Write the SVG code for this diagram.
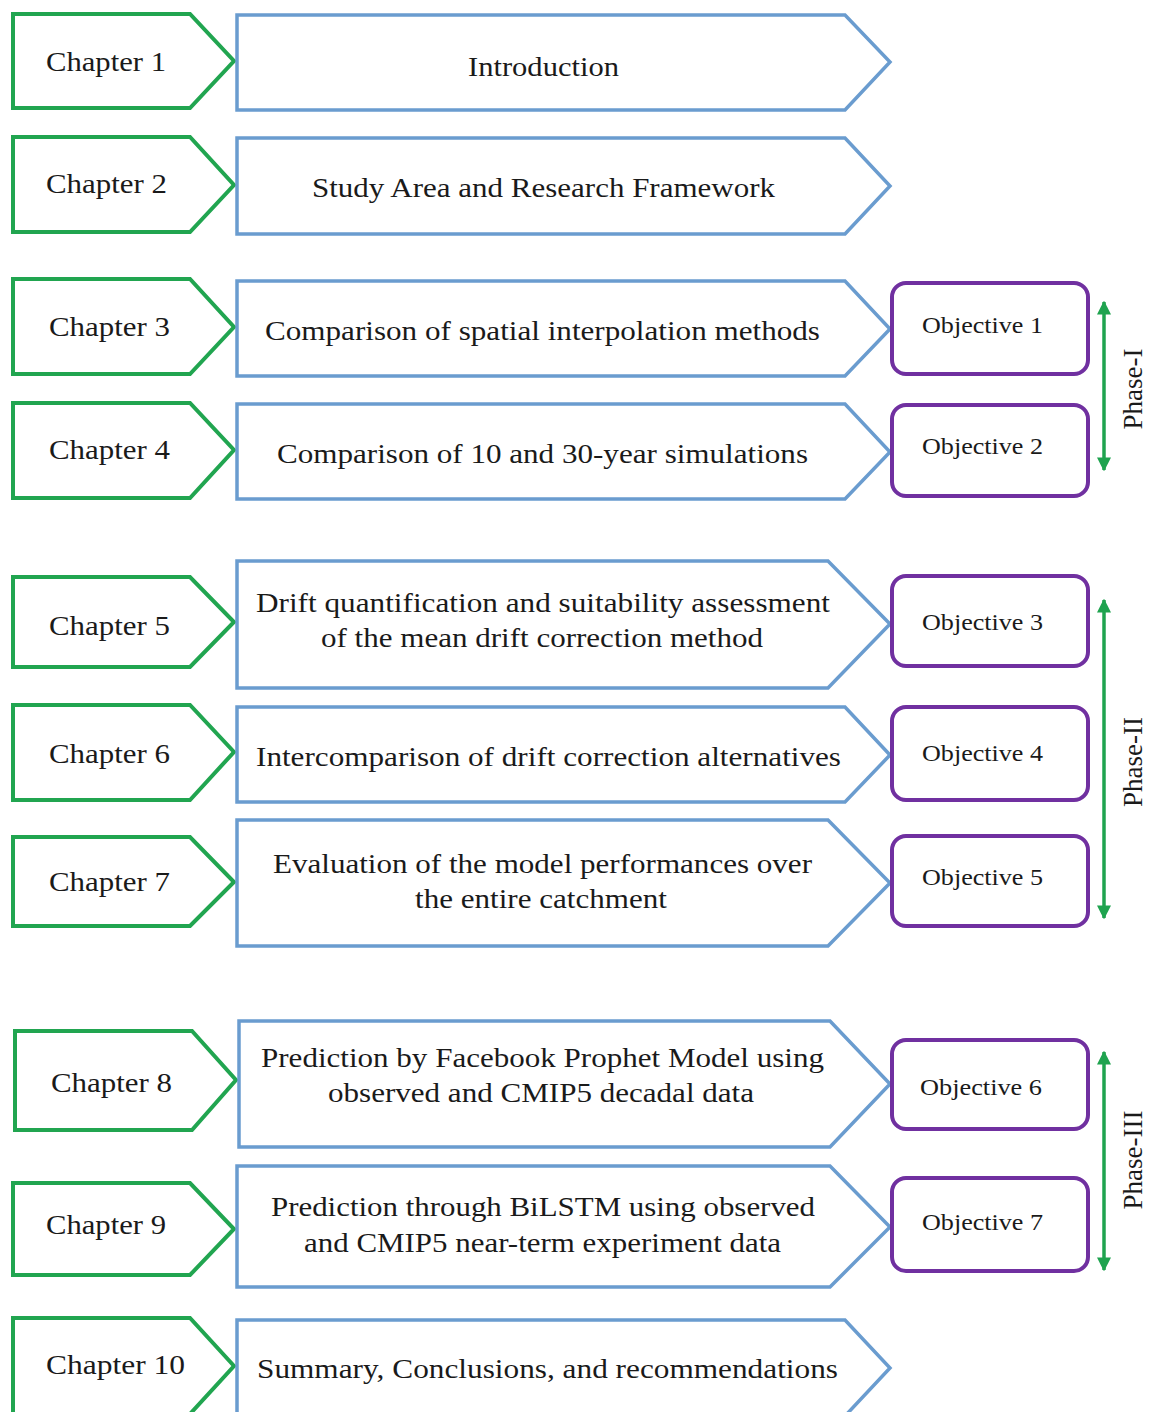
<svg xmlns="http://www.w3.org/2000/svg" width="1150" height="1412" viewBox="0 0 1150 1412">
<style>
.ch{fill:#fff;stroke:#21a550;stroke-width:4;stroke-linejoin:miter}
.bx{fill:#fff;stroke:#6a9ccf;stroke-width:3.5}
.ob{fill:#fff;stroke:#7030a0;stroke-width:4}
.t{font-family:"Liberation Serif","Times New Roman",serif;font-size:27px;fill:#1a1a1a}
.c{text-anchor:middle}
.o{font-family:"Liberation Serif","Times New Roman",serif;font-size:23px;fill:#1a1a1a}
.ph{font-family:"Liberation Serif","Times New Roman",serif;font-size:27px;fill:#1a1a1a;text-anchor:middle}
.ar{stroke:#1fa34f;stroke-width:3.5}
</style>
<defs>
<marker id="ah" viewBox="0 0 10 10" refX="9" refY="5" markerWidth="4" markerHeight="4" orient="auto-start-reverse" markerUnits="strokeWidth">
<path d="M0,0 L10,5 L0,10 z" fill="#1fa34f"/>
</marker>
</defs>

<g id="row1">
<polygon class="ch" points="13,14 190,14 234,61 190,108 13,108"/>
<text class="t" x="46" y="71" textLength="120" lengthAdjust="spacingAndGlyphs">Chapter 1</text>
<polygon class="bx" points="237,15 845,15 890,62 845,110 237,110"/>
<text class="t" x="468" y="76" textLength="151" lengthAdjust="spacingAndGlyphs">Introduction</text>
</g>
<g id="row2">
<polygon class="ch" points="13,137 190,137 234,185 190,232 13,232"/>
<text class="t" x="46" y="193" textLength="121" lengthAdjust="spacingAndGlyphs">Chapter 2</text>
<polygon class="bx" points="237,138 845,138 890,186 845,234 237,234"/>
<text class="t" x="312" y="197" textLength="463" lengthAdjust="spacingAndGlyphs">Study Area and Research Framework</text>
</g>
<g id="row3">
<polygon class="ch" points="13,279 190,279 234,327 190,374 13,374"/>
<text class="t" x="49" y="336" textLength="121" lengthAdjust="spacingAndGlyphs">Chapter 3</text>
<polygon class="bx" points="237,281 845,281 890,329 845,376 237,376"/>
<text class="t" x="265" y="340" textLength="555" lengthAdjust="spacingAndGlyphs">Comparison of spatial interpolation methods</text>
</g>
<g id="row4">
<polygon class="ch" points="13,403 190,403 234,450 190,498 13,498"/>
<text class="t" x="49" y="459" textLength="121" lengthAdjust="spacingAndGlyphs">Chapter 4</text>
<polygon class="bx" points="237,404 845,404 890,452 845,499 237,499"/>
<text class="t" x="277" y="463" textLength="531" lengthAdjust="spacingAndGlyphs">Comparison of 10 and 30-year simulations</text>
</g>
<g id="row5">
<polygon class="ch" points="13,577 190,577 234,622 190,667 13,667"/>
<text class="t" x="49" y="635" textLength="121" lengthAdjust="spacingAndGlyphs">Chapter 5</text>
<polygon class="bx" points="237,561 828,561 890,624 828,688 237,688"/>
<text class="t" x="256" y="612" textLength="574" lengthAdjust="spacingAndGlyphs">Drift quantification and suitability assessment</text>
<text class="t" x="321" y="647" textLength="442" lengthAdjust="spacingAndGlyphs">of the mean drift correction method</text>
</g>
<g id="row6">
<polygon class="ch" points="13,705 190,705 234,752 190,800 13,800"/>
<text class="t" x="49" y="763" textLength="121" lengthAdjust="spacingAndGlyphs">Chapter 6</text>
<polygon class="bx" points="237,707 845,707 890,755 845,802 237,802"/>
<text class="t" x="256" y="766" textLength="585" lengthAdjust="spacingAndGlyphs">Intercomparison of drift correction alternatives</text>
</g>
<g id="row7">
<polygon class="ch" points="13,837 190,837 234,882 190,926 13,926"/>
<text class="t" x="49" y="891" textLength="121" lengthAdjust="spacingAndGlyphs">Chapter 7</text>
<polygon class="bx" points="237,820 828,820 890,883 828,946 237,946"/>
<text class="t" x="273" y="873" textLength="539" lengthAdjust="spacingAndGlyphs">Evaluation of the model performances over</text>
<text class="t" x="415" y="908" textLength="252" lengthAdjust="spacingAndGlyphs">the entire catchment</text>
</g>
<g id="row8">
<polygon class="ch" points="15,1031 192,1031 236,1080 192,1130 15,1130"/>
<text class="t" x="51" y="1092" textLength="121" lengthAdjust="spacingAndGlyphs">Chapter 8</text>
<polygon class="bx" points="239,1021 830,1021 890,1084 830,1147 239,1147"/>
<text class="t" x="261" y="1067" textLength="563" lengthAdjust="spacingAndGlyphs">Prediction by Facebook Prophet Model using</text>
<text class="t" x="328" y="1102" textLength="426" lengthAdjust="spacingAndGlyphs">observed and CMIP5 decadal data</text>
</g>
<g id="row9">
<polygon class="ch" points="13,1183 190,1183 234,1229 190,1275 13,1275"/>
<text class="t" x="46" y="1234" textLength="120" lengthAdjust="spacingAndGlyphs">Chapter 9</text>
<polygon class="bx" points="237,1166 830,1166 890,1227 830,1287 237,1287"/>
<text class="t" x="271" y="1216" textLength="544" lengthAdjust="spacingAndGlyphs">Prediction through BiLSTM using observed</text>
<text class="t" x="304" y="1252" textLength="477" lengthAdjust="spacingAndGlyphs">and CMIP5 near-term experiment data</text>
</g>
<g id="row10">
<polygon class="ch" points="13,1318 190,1318 234,1366 190,1414 13,1414"/>
<text class="t" x="46" y="1374" textLength="139" lengthAdjust="spacingAndGlyphs">Chapter 10</text>
<polygon class="bx" points="237,1320 845,1320 890,1368 845,1416 237,1416"/>
<text class="t" x="257" y="1378" textLength="581" lengthAdjust="spacingAndGlyphs">Summary, Conclusions, and recommendations</text>
</g>

<g id="obj1"><rect class="ob" x="892" y="283" width="196" height="91" rx="14"/><text class="o" x="922" y="333" textLength="121" lengthAdjust="spacingAndGlyphs">Objective 1</text></g>
<g id="obj2"><rect class="ob" x="892" y="405" width="196" height="91" rx="14"/><text class="o" x="922" y="454" textLength="121" lengthAdjust="spacingAndGlyphs">Objective 2</text></g>
<g id="obj3"><rect class="ob" x="892" y="576" width="196" height="90" rx="14"/><text class="o" x="922" y="630" textLength="121" lengthAdjust="spacingAndGlyphs">Objective 3</text></g>
<g id="obj4"><rect class="ob" x="892" y="707" width="196" height="93" rx="14"/><text class="o" x="922" y="761" textLength="121" lengthAdjust="spacingAndGlyphs">Objective 4</text></g>
<g id="obj5"><rect class="ob" x="892" y="836" width="196" height="90" rx="14"/><text class="o" x="922" y="885" textLength="121" lengthAdjust="spacingAndGlyphs">Objective 5</text></g>
<g id="obj6"><rect class="ob" x="892" y="1040" width="196" height="89" rx="14"/><text class="o" x="920" y="1095" textLength="122" lengthAdjust="spacingAndGlyphs">Objective 6</text></g>
<g id="obj7"><rect class="ob" x="892" y="1178" width="196" height="93" rx="14"/><text class="o" x="922" y="1230" textLength="121" lengthAdjust="spacingAndGlyphs">Objective 7</text></g>

<g id="connectors">
<line class="ar" x1="1104" y1="302" x2="1104" y2="470" marker-start="url(#ah)" marker-end="url(#ah)"/>
<line class="ar" x1="1104" y1="600" x2="1104" y2="918" marker-start="url(#ah)" marker-end="url(#ah)"/>
<line class="ar" x1="1104" y1="1052" x2="1104" y2="1270" marker-start="url(#ah)" marker-end="url(#ah)"/>
</g>

<g id="phase1"><text class="ph" transform="translate(1142,389) rotate(-90)">Phase-I</text></g>
<g id="phase2"><text class="ph" transform="translate(1142,762) rotate(-90)">Phase-II</text></g>
<g id="phase3"><text class="ph" transform="translate(1142,1160) rotate(-90)">Phase-III</text></g>
</svg>
